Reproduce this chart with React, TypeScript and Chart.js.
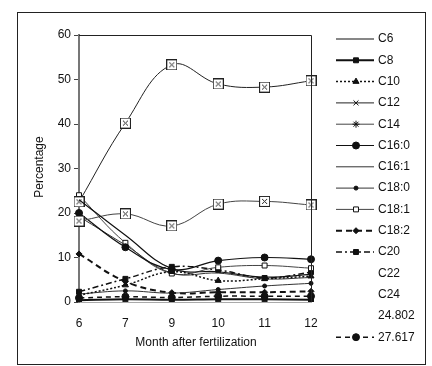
import React, { useEffect, useRef } from "react";
import { Chart, registerables } from "chart.js";
import { drawPoint } from "chart.js/helpers";

Chart.register(...registerables);

const months = ["6", "7", "9", "10", "11", "12"];
const seriesNames = ["C6", "C8", "C10", "C12", "C14", "C16:0", "C16:1", "C18:0", "C18:1", "C18:2", "C20", "C22", "C24", "24.802", "27.617"];

const c6 = [23, 15, 7.5, 6.8, 5.6, 6.2];
const c8 = [0.4, 0.6, 0.5, 0.6, 0.6, 0.5];
const c10 = [1.5, 3.8, 6.8, 4.8, 5.2, 5.8];
const c12 = [22.5, 40.2, 53.3, 49, 48.3, 49.7];
const c14 = [18.2, 19.8, 17.1, 22, 22.6, 21.8];
const c16_0 = [20, 12.3, 7.3, 9.3, 10, 9.6];
const c16_1 = [19.2, 12.8, 6.5, 6.5, 5.2, 5.5];
const c18_0 = [1.8, 2.5, 2.0, 2.8, 3.6, 4.2];
const c18_1 = [24, 13.3, 6.4, 7.8, 8.2, 7.6];
const c18_2 = [10.8, 4.6, 2.1, 2.2, 2.2, 2.4];
const c20 = [2.3, 5.2, 7.9, 7.2, 5.4, 6.7];
const c22: (number | null)[] = [null, null, null, null, null, null];
const c24: (number | null)[] = [null, null, null, null, null, null];
const s24_802: (number | null)[] = [null, null, null, null, null, null];
const s27_617 = [0.9, 1.2, 1.0, 1.3, 1.3, 1.3];

const yTicks = [0, 10, 20, 30, 40, 50, 60];

const FONT = "'Liberation Sans', Arial, sans-serif";

function makeBoxX(size: number): HTMLCanvasElement {
  const c = document.createElement("canvas");
  c.width = size;
  c.height = size;
  const g = c.getContext("2d")!;
  g.fillStyle = "#fff";
  g.fillRect(0, 0, size, size);
  g.strokeStyle = "#222";
  g.lineWidth = 1;
  g.strokeRect(0.5, 0.5, size - 1, size - 1);
  g.beginPath();
  g.moveTo(3, 3);
  g.lineTo(size - 3, size - 3);
  g.moveTo(size - 3, 3);
  g.lineTo(3, size - 3);
  g.stroke();
  return c;
}

type Style = {
  dash: number[];
  width: number;
  color: string;
  point: any;
  radius: number;
  fill: string;
  legendPoint: any;
  legendRadius: number;
  legendLine: boolean;
};

export default function App() {
  const ref = useRef<HTMLCanvasElement | null>(null);

  useEffect(() => {
    document.body.style.margin = "0";
    const boxX = makeBoxX(11);
    const none = false;
    const styles: Style[] = [
      { dash: [], width: 1.2, color: "#111", point: none, radius: 0, fill: "#111", legendPoint: none, legendRadius: 0, legendLine: true },
      { dash: [], width: 2, color: "#111", point: "rect", radius: 3.5, fill: "#111", legendPoint: "rect", legendRadius: 3.5, legendLine: true },
      { dash: [2, 2], width: 1.5, color: "#111", point: "triangle", radius: 3.5, fill: "#111", legendPoint: "triangle", legendRadius: 3.5, legendLine: true },
      { dash: [], width: 1, color: "#222", point: boxX, radius: 5, fill: "#fff", legendPoint: "crossRot", legendRadius: 3.5, legendLine: true },
      { dash: [], width: 1, color: "#444", point: boxX, radius: 5, fill: "#fff", legendPoint: "star", legendRadius: 3.5, legendLine: true },
      { dash: [], width: 1.2, color: "#111", point: "circle", radius: 3.5, fill: "#111", legendPoint: "circle", legendRadius: 3.5, legendLine: true },
      { dash: [], width: 1, color: "#333", point: none, radius: 0, fill: "#333", legendPoint: none, legendRadius: 0, legendLine: true },
      { dash: [], width: 1, color: "#333", point: "circle", radius: 2, fill: "#111", legendPoint: "circle", legendRadius: 2, legendLine: true },
      { dash: [], width: 1, color: "#444", point: "rect", radius: 3.5, fill: "#fff", legendPoint: "rect", legendRadius: 3.5, legendLine: true },
      { dash: [6, 4], width: 2, color: "#111", point: "rectRot", radius: 3, fill: "#111", legendPoint: "rectRot", legendRadius: 3, legendLine: true },
      { dash: [6, 3, 2, 3], width: 1.5, color: "#111", point: "rect", radius: 3.5, fill: "#111", legendPoint: "rect", legendRadius: 3.5, legendLine: true },
      { dash: [], width: 0, color: "#111", point: none, radius: 0, fill: "#111", legendPoint: none, legendRadius: 0, legendLine: false },
      { dash: [], width: 0, color: "#111", point: none, radius: 0, fill: "#111", legendPoint: none, legendRadius: 0, legendLine: false },
      { dash: [], width: 0, color: "#111", point: none, radius: 0, fill: "#111", legendPoint: none, legendRadius: 0, legendLine: false },
      { dash: [5, 4], width: 1.5, color: "#111", point: "circle", radius: 3.5, fill: "#111", legendPoint: "circle", legendRadius: 3.5, legendLine: true },
    ];
    const values = [c6, c8, c10, c12, c14, c16_0, c16_1, c18_0, c18_1, c18_2, c20, c22, c24, s24_802, s27_617];

    const datasets = seriesNames.map((name, i) => {
      const s = styles[i];
      return {
        label: name,
        data: values[i],
        borderColor: s.color,
        borderWidth: s.width,
        borderDash: s.dash,
        pointStyle: s.point,
        pointRadius: s.radius,
        pointBackgroundColor: s.fill,
        pointBorderColor: "#111",
        pointBorderWidth: 1,
        tension: 0.4,
        fill: false,
        showLine: s.width > 0,
      };
    });

    const decor = {
      id: "decor",
      beforeDraw(chart: any) {
        const ctx = chart.ctx;
        ctx.save();
        ctx.fillStyle = "#fff";
        ctx.fillRect(0, 0, chart.width, chart.height);
        ctx.restore();
      },
      afterDraw(chart: any) {
        const ctx = chart.ctx;
        const a = chart.chartArea;
        ctx.save();
        // outer frame
        ctx.strokeStyle = "#222";
        ctx.lineWidth = 1;
        ctx.strokeRect(17.5, 12.5, 408, 352);
        // plot frame top & right
        ctx.beginPath();
        ctx.moveTo(a.left, a.top + 0.5);
        ctx.lineTo(a.right + 0.5, a.top + 0.5);
        ctx.lineTo(a.right + 0.5, a.bottom);
        ctx.stroke();
        // axis titles
        ctx.fillStyle = "#111";
        ctx.font = `12px ${FONT}`;
        ctx.textAlign = "center";
        ctx.textBaseline = "middle";
        ctx.fillText("Month after fertilization", 196, 343);
        ctx.save();
        ctx.translate(40, 167);
        ctx.rotate(-Math.PI / 2);
        ctx.fillText("Percentage", 0, 0);
        ctx.restore();
        // legend
        chart.data.datasets.forEach((ds: any, i: number) => {
          const s = styles[i];
          const y = 39 + i * 21.3;
          if (s.legendLine) {
            ctx.save();
            ctx.strokeStyle = s.color;
            ctx.lineWidth = s.width;
            ctx.setLineDash(s.dash);
            ctx.beginPath();
            ctx.moveTo(336, y);
            ctx.lineTo(374, y);
            ctx.stroke();
            ctx.restore();
          }
          if (s.legendPoint) {
            ctx.save();
            ctx.fillStyle = s.fill;
            ctx.strokeStyle = "#111";
            ctx.lineWidth = 1;
            drawPoint(ctx, { pointStyle: s.legendPoint, rotation: 0, radius: s.legendRadius, borderWidth: 1 }, 356, y);
            ctx.restore();
          }
          ctx.fillStyle = "#111";
          ctx.font = `12px ${FONT}`;
          ctx.textAlign = "left";
          ctx.textBaseline = "middle";
          ctx.fillText(ds.label, 378, y);
        });
        ctx.restore();
      },
    };

    const chart = new Chart(ref.current!, {
      type: "line",
      data: { labels: months, datasets: datasets as any },
      options: {
        animation: false,
        responsive: false,
        maintainAspectRatio: false,
        layout: { padding: { left: 0, top: 35, right: 121, bottom: 0 } },
        plugins: { legend: { display: false }, tooltip: { enabled: false }, title: { display: false } },
        scales: {
          x: {
            type: "category",
            offset: false,
            grid: { display: false, drawTicks: false },
            border: { display: true, color: "#aaa", width: 1 },
            ticks: { color: "#111", font: { family: FONT, size: 12 }, padding: 14, maxRotation: 0, autoSkip: false },
            afterFit(scale: any) {
              scale.height = 64;
            },
          },
          y: {
            min: 0,
            max: 60,
            afterBuildTicks(scale: any) {
              scale.ticks = yTicks.map((v) => ({ value: v }));
            },
            grid: { drawOnChartArea: false, drawTicks: true, tickLength: 5, color: "#444" },
            border: { display: true, color: "#777", width: 2 },
            ticks: { color: "#111", font: { family: FONT, size: 12 }, padding: 3 },
            afterFit(scale: any) {
              scale.width = 79;
            },
          },
        },
      },
      plugins: [decor],
    });
    return () => chart.destroy();
  }, []);

  return (
    <div style={{ width: 432, height: 366, position: "relative" }}>
      <canvas ref={ref} width={432} height={366} style={{ width: 432, height: 366, display: "block" }} />
    </div>
  );
}
